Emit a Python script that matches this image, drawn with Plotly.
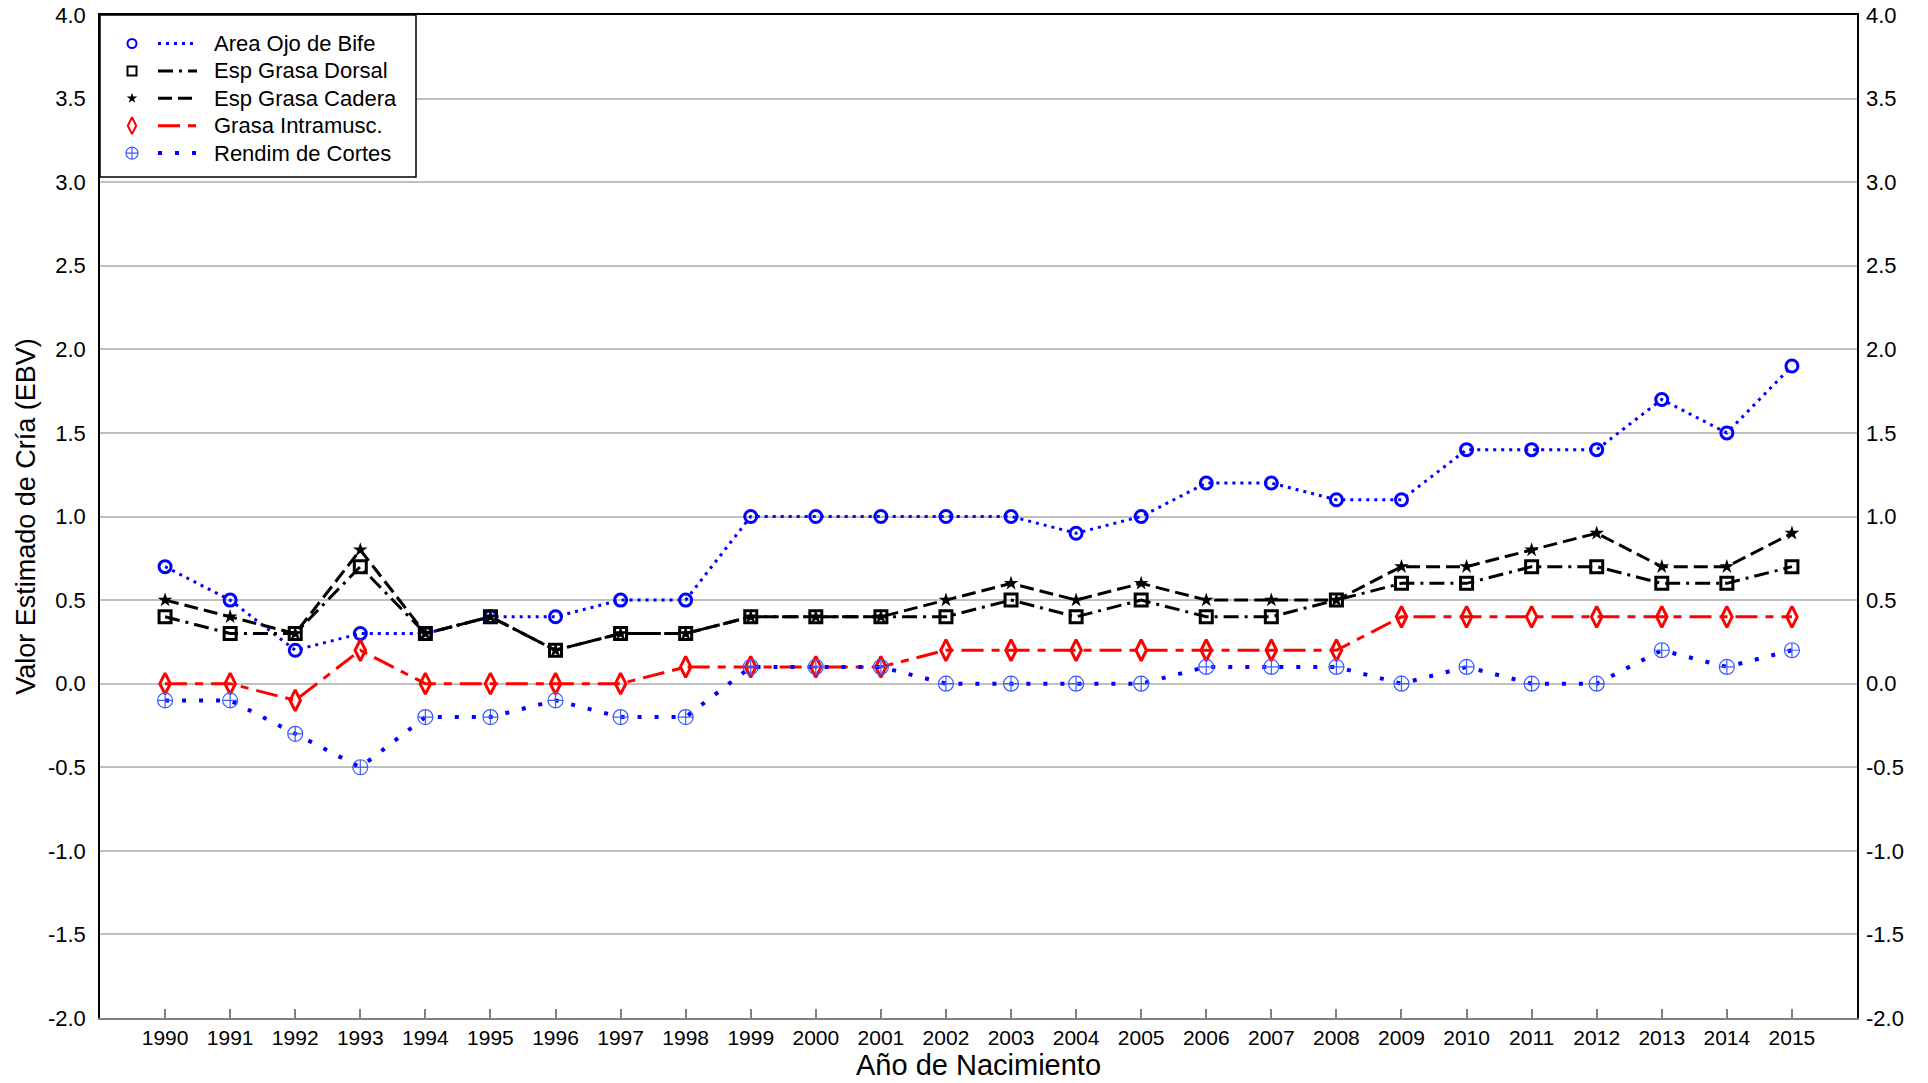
import plotly.graph_objects as go

# ---------------- data ----------------
years = list(range(1990, 2016))

area_ojo_bife = [0.7, 0.5, 0.2, 0.3, 0.3, 0.4, 0.4, 0.5, 0.5, 1.0, 1.0, 1.0, 1.0,
                 1.0, 0.9, 1.0, 1.2, 1.2, 1.1, 1.1, 1.4, 1.4, 1.4, 1.7, 1.5, 1.9]
esp_grasa_dorsal = [0.4, 0.3, 0.3, 0.7, 0.3, 0.4, 0.2, 0.3, 0.3, 0.4, 0.4, 0.4, 0.4,
                    0.5, 0.4, 0.5, 0.4, 0.4, 0.5, 0.6, 0.6, 0.7, 0.7, 0.6, 0.6, 0.7]
esp_grasa_cadera = [0.5, 0.4, 0.3, 0.8, 0.3, 0.4, 0.2, 0.3, 0.3, 0.4, 0.4, 0.4, 0.5,
                    0.6, 0.5, 0.6, 0.5, 0.5, 0.5, 0.7, 0.7, 0.8, 0.9, 0.7, 0.7, 0.9]
grasa_intramusc = [0.0, 0.0, -0.1, 0.2, 0.0, 0.0, 0.0, 0.0, 0.1, 0.1, 0.1, 0.1, 0.2,
                   0.2, 0.2, 0.2, 0.2, 0.2, 0.2, 0.4, 0.4, 0.4, 0.4, 0.4, 0.4, 0.4]
rendim_cortes = [-0.1, -0.1, -0.3, -0.5, -0.2, -0.2, -0.1, -0.2, -0.2, 0.1, 0.1, 0.1, 0.0,
                 0.0, 0.0, 0.0, 0.1, 0.1, 0.1, 0.0, 0.1, 0.0, 0.0, 0.2, 0.1, 0.2]

series_names = ["Area Ojo de Bife", "Esp Grasa Dorsal", "Esp Grasa Cadera",
                "Grasa Intramusc.", "Rendim de Cortes"]
series_values = [area_ojo_bife, esp_grasa_dorsal, esp_grasa_cadera,
                 grasa_intramusc, rendim_cortes]

y_tickvals = [-2.0, -1.5, -1.0, -0.5, 0.0, 0.5, 1.0, 1.5, 2.0, 2.5, 3.0, 3.5, 4.0]
y_ticktext = ["-2.0", "-1.5", "-1.0", "-0.5", "0.0", "0.5", "1.0", "1.5", "2.0",
              "2.5", "3.0", "3.5", "4.0"]
x_ticktext = [str(y) for y in years]

# ---------------- styles ----------------
FONT = "Liberation Sans, Arial, sans-serif"
styles = [
    dict(lc="#0000ff", lw=3, dash="3px,5px", sym="circle-open", ms=12, mc="#0000ff", mlw=3),
    dict(lc="#000000", lw=3, dash="15px,6px,3px,6px", sym="square-open", ms=12, mc="#000000", mlw=3),
    dict(lc="#000000", lw=3, dash="14px,6px", sym="star", ms=11, mc="#000000", mlw=0),
    dict(lc="#ff0000", lw=3, dash="22px,8px,8px,8px", sym="diamond-tall-open", ms=15, mc="#ff0000", mlw=3),
    dict(lc="#0000ff", lw=4, dash="4px,13px", sym="circle-cross-open", ms=15, mc="#3a5cff", mlw=1.2),
]

fig = go.Figure()

for name, vals, st in zip(series_names, series_values, styles):
    fig.add_trace(go.Scatter(
        x=years, y=vals, name=name, mode="lines+markers",
        line=dict(color=st["lc"], width=st["lw"], dash=st["dash"]),
        marker=dict(symbol=st["sym"], size=st["ms"], color=st["mc"],
                    line=dict(color=st["mc"], width=st["mlw"])),
        showlegend=False, hoverinfo="x+y+name",
    ))

# dummy trace so the right-hand axis with labels is drawn
fig.add_trace(go.Scatter(x=[years[0]], y=[None], yaxis="y2", showlegend=False,
                         hoverinfo="skip", mode="markers"))

# ---------------- custom legend (pixel overlay: x 0..1757, y 0..1003 from top) ----------------
box_w, box_h = 316, 162
fig.add_trace(go.Scatter(
    x=[0, box_w, box_w, 0, 0], y=[0, 0, box_h, box_h, 0], xaxis="x2", yaxis="y3",
    mode="lines", fill="toself", fillcolor="white",
    line=dict(color="black", width=1.5), showlegend=False, hoverinfo="skip"))

row_y0, row_dy = 28.5, 27.4
for i, (name, st) in enumerate(zip(series_names, styles)):
    ry = row_y0 + i * row_dy
    fig.add_trace(go.Scatter(
        x=[58, 97], y=[ry, ry], xaxis="x2", yaxis="y3", mode="lines",
        line=dict(color=st["lc"], width=st["lw"], dash=st["dash"]),
        showlegend=False, hoverinfo="skip"))
    fig.add_trace(go.Scatter(
        x=[32], y=[ry], xaxis="x2", yaxis="y3", mode="markers",
        marker=dict(symbol=st["sym"], size=st["ms"] - 3, color=st["mc"],
                    line=dict(color=st["mc"], width=min(st["mlw"], 2))),
        showlegend=False, hoverinfo="skip"))
    fig.add_annotation(x=112, y=ry, xref="x2", yref="y3", text=name, showarrow=False,
                       xanchor="left", yanchor="middle",
                       font=dict(family=FONT, size=22, color="black"))

# ---------------- layout ----------------
fig.update_layout(
    width=1928, height=1083,
    margin=dict(l=100, r=71, t=15, b=65),
    paper_bgcolor="white", plot_bgcolor="white",
    font=dict(family=FONT, size=21, color="black"),
    showlegend=False,
    xaxis=dict(
        range=[1989, 2016], tickvals=years, ticktext=x_ticktext,
        ticks="inside", ticklen=9, tickwidth=1.5, tickcolor="#808080",
        showline=True, linecolor="#808080", linewidth=2,
        showgrid=False, zeroline=False,
        tickfont=dict(family=FONT, size=21, color="black"),
        title=dict(text="Año de Nacimiento", font=dict(family=FONT, size=29, color="black"),
                   standoff=3),
        automargin=False,
    ),
    yaxis=dict(
        range=[-2, 4], tickvals=y_tickvals, ticktext=y_ticktext,
        ticks="", showline=True, linecolor="black", linewidth=1.5, mirror=True,
        showgrid=True, gridcolor="#c0c0c0", gridwidth=1.5, zeroline=False,
        tickfont=dict(family=FONT, size=22, color="black"),
        ticklabelstandoff=8,
        title=dict(text="Valor Estimado de Cría (EBV)",
                   font=dict(family=FONT, size=27, color="black"), standoff=4),
        automargin=False,
    ),
    yaxis2=dict(
        range=[-2, 4], tickvals=y_tickvals, ticktext=y_ticktext,
        overlaying="y", side="right", anchor="x",
        ticks="", showline=False, showgrid=False, zeroline=False,
        tickfont=dict(family=FONT, size=22, color="black"),
        ticklabelstandoff=8, automargin=False,
    ),
    xaxis2=dict(
        overlaying="x", side="top", anchor="y3", range=[0, 1757],
        showline=True, linecolor="black", linewidth=1.5,
        showgrid=False, zeroline=False, showticklabels=False, ticks="",
        fixedrange=True,
    ),
    yaxis3=dict(
        overlaying="y", anchor="x2", range=[1003, 0], visible=False, fixedrange=True,
    ),
)

fig.write_html("out.html", config={"displayModeBar": False},
               post_script="document.body.style.margin='0';")
